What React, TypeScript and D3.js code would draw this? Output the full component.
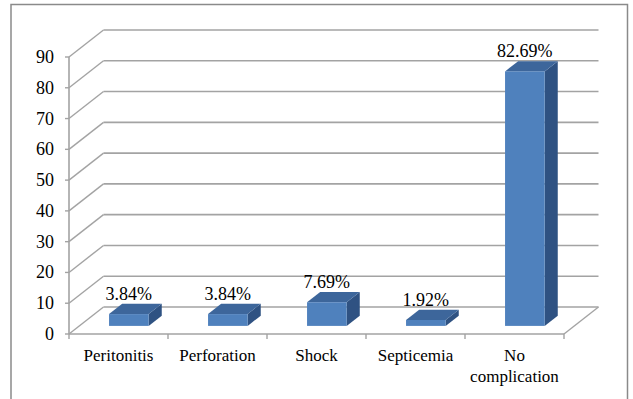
import React from "react";
import * as d3 from "d3";

const categories = ["Peritonitis", "Perforation", "Shock", "Septicemia", "No complication"];
const values = [3.84, 3.84, 7.69, 1.92, 82.69];
const yTicks = [0, 10, 20, 30, 40, 50, 60, 70, 80, 90];

const W = 633;
const H = 399;
const x0 = 69;
const x1 = 564;
const DX = 34.5; // depth offset of the back wall
const DY = -27;
const F0 = 0.3; // bar front depth fraction
const F1 = 0.68; // bar back depth fraction

const FONT = "Liberation Serif";
const GRID = "#a3a3a3";

export default function App() {
  const y = d3.scaleLinear().domain([0, 90]).range([334, 57]);
  const x = d3
    .scaleBand<string>()
    .domain(categories)
    .range([x0, x1])
    .paddingInner(0.6)
    .paddingOuter(0.3);
  const step = x.step();

  const wrapLabel = (c: string) => (c === "No complication" ? ["No", "complication"] : [c]);

  return (
    <div style={{ position: "fixed", left: 0, top: 0 }}>
      <svg width={W} height={H} fontFamily={FONT} style={{ display: "block", background: "#fff" }}>
        {/* outer frame */}
        <path d={`M11,${H + 2}V4.5H627.5V${H + 2}`} fill="none" stroke="#8a8a8a" strokeWidth={1.5} />

        {/* back wall grid lines and left wall diagonals */}
        {yTicks.map((t) => (
          <g key={t}>
            <line x1={x0 + DX} x2={x1 + DX} y1={y(t) + DY} y2={y(t) + DY} stroke={GRID} strokeWidth={1.6} />
            <line x1={x0} x2={x0 + DX} y1={y(t)} y2={y(t) + DY} stroke={GRID} strokeWidth={1.4} />
            <line x1={x0 - 4} x2={x0} y1={y(t)} y2={y(t)} stroke={GRID} strokeWidth={1.4} />
            <text x={54} y={y(t)} dominantBaseline="central" textAnchor="end" fontFamily={FONT} fontSize={18} fill="#000">
              {t}
            </text>
          </g>
        ))}

        {/* floor edges and axes */}
        <line x1={x0} x2={x0} y1={y(90)} y2={y(0)} stroke={GRID} strokeWidth={1.6} />
        <line x1={x0} x2={x1} y1={y(0)} y2={y(0)} stroke={GRID} strokeWidth={1.6} />
        <line x1={x1} x2={x1 + DX} y1={y(0)} y2={y(0) + DY} stroke={GRID} strokeWidth={1.4} />
        {d3.range(categories.length + 1).map((i) => (
          <line key={i} x1={x0 + i * step} x2={x0 + i * step} y1={y(0)} y2={y(0) + 5} stroke={GRID} strokeWidth={1.4} />
        ))}

        {/* 3D columns */}
        {categories.map((c, i) => {
          const v = values[i];
          const bx = (x(c) as number) + F0 * DX;
          const bw = x.bandwidth();
          const by0 = y(0) + F0 * DY;
          const h = y(0) - y(v);
          const top = by0 - h;
          const ddx = (F1 - F0) * DX;
          const ddy = (F1 - F0) * DY;
          return (
            <g key={c}>
              <path d={`M${bx + bw},${top}L${bx + bw + ddx},${top + ddy}V${by0 + ddy}L${bx + bw},${by0}Z`} fill="#2f5282" />
              <path d={`M${bx},${top}L${bx + ddx},${top + ddy}H${bx + bw + ddx}L${bx + bw},${top}Z`} fill="#3d669b" />
              <rect x={bx} y={top} width={bw} height={h} fill="#4f81bd" />
              <text x={bx + bw / 2} y={top + ddy - 4} textAnchor="middle" fontFamily={FONT} fontSize={18} fill="#000">
                {`${v.toFixed(2)}%`}
              </text>
            </g>
          );
        })}

        {/* category labels */}
        {categories.map((c) => (
          <text key={c} x={(x(c) as number) + x.bandwidth() / 2} y={361} textAnchor="middle" fontFamily={FONT} fontSize={17} fill="#000">
            {wrapLabel(c).map((s, j) => (
              <tspan key={j} x={(x(c) as number) + x.bandwidth() / 2} dy={j === 0 ? 0 : 21}>
                {s}
              </tspan>
            ))}
          </text>
        ))}
      </svg>
    </div>
  );
}
